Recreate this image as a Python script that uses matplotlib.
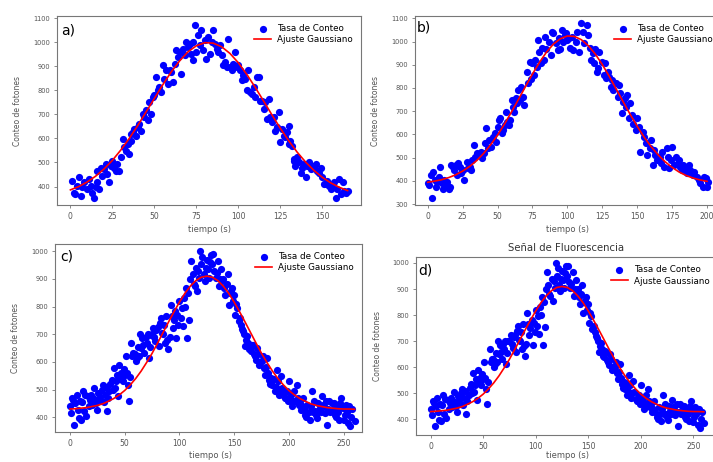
import matplotlib.pyplot as plt

W, H = 713, 462

# ---- panel a) ----
a_x = [1, 2, 3, 4, 5, 6, 7, 8, 10, 11,
       12, 13, 14, 15, 16, 16, 17, 18, 19, 20,
       21, 22, 23, 24, 25, 26, 27, 28, 29, 30,
       31, 32, 33, 34, 35, 36, 36, 37, 38, 39,
       40, 41, 42, 43, 44, 45, 46, 47, 48, 49,
       50, 51, 52, 53, 54, 55, 56, 57, 58, 59,
       60, 61, 62, 63, 64, 65, 66, 67, 68, 69,
       70, 71, 72, 73, 73, 74, 75, 76, 77, 78,
       79, 80, 81, 82, 83, 85, 84, 86, 87, 88,
       89, 90, 91, 92, 93, 94, 95, 96, 97, 98,
       99, 100, 101, 102, 103, 104, 105, 106, 107, 108,
       109, 110, 111, 112, 113, 114, 115, 116, 117, 118,
       119, 120, 121, 122, 123, 124, 125, 126, 127, 128,
       129, 130, 130, 131, 132, 133, 133, 134, 135, 136,
       137, 138, 139, 140, 141, 142, 143, 144, 145, 146,
       147, 148, 149, 150, 151, 152, 153, 154, 155, 156,
       157, 158, 159, 160, 161, 162, 163, 164, 165]
a_y = [424, 375, 368, 403, 438, 361, 396, 417, 389, 431,
       403, 375, 354, 396, 466, 417, 389, 479, 445, 472,
       493, 452, 417, 486, 507, 479, 466, 493, 466, 521,
       598, 563, 549, 577, 535, 619, 591, 626, 640, 612,
       647, 661, 633, 703, 689, 717, 675, 751, 703, 772,
       779, 856, 800, 814, 793, 905, 849, 884, 828, 884,
       877, 835, 912, 967, 939, 960, 870, 974, 946, 1002,
       981, 995, 953, 926, 1002, 1072, 960, 1030, 988, 1051,
       967, 1009, 932, 1023, 953, 1051, 1002, 995, 974, 960,
       988, 946, 905, 919, 898, 1016, 898, 884, 912, 960,
       898, 905, 884, 842, 863, 849, 800, 884, 793, 786,
       814, 772, 856, 856, 758, 758, 723, 751, 682, 765,
       689, 668, 689, 633, 647, 710, 584, 640, 612, 605,
       626, 577, 654, 591, 570, 514, 507, 486, 521, 500,
       458, 479, 493, 438, 486, 500, 472, 486, 479, 493,
       466, 458, 479, 438, 410, 410, 424, 403, 389, 396,
       417, 354, 389, 431, 368, 417, 382, 375, 382]
a_fit_x = list(range(0, 166, 5))
a_fit_y = [386, 400, 419, 443, 473, 509, 552, 600, 653, 710,
           767, 824, 877, 923, 961, 986, 999, 997, 982, 954,
           915, 867, 813, 756, 698, 642, 590, 543, 502, 467,
           438, 415, 397, 383]

# ---- panel b) ----
b_x = [0, 1, 2, 3, 4, 5, 6, 7, 8, 9,
       10, 11, 12, 13, 14, 15, 16, 17, 18, 19,
       20, 21, 22, 23, 24, 25, 26, 28, 29, 30,
       31, 32, 33, 34, 35, 37, 38, 39, 40, 41,
       42, 43, 44, 45, 47, 48, 49, 50, 51, 52,
       53, 54, 55, 56, 57, 58, 59, 60, 61, 62,
       63, 64, 65, 66, 67, 68, 69, 71, 72, 73,
       74, 75, 76, 77, 78, 79, 80, 81, 82, 83,
       84, 85, 87, 88, 89, 90, 92, 93, 94, 95,
       96, 97, 98, 99, 100, 101, 102, 103, 104, 106,
       107, 108, 110, 111, 112, 114, 115, 116, 117, 118,
       119, 120, 121, 122, 123, 125, 126, 127, 128, 129,
       130, 131, 132, 133, 135, 136, 137, 138, 139, 140,
       141, 142, 143, 144, 145, 146, 147, 149, 150, 151,
       152, 154, 155, 156, 157, 159, 160, 161, 162, 163,
       164, 166, 167, 168, 169, 171, 172, 173, 174, 175,
       176, 178, 179, 180, 181, 182, 183, 185, 186, 187,
       188, 190, 191, 193, 194, 195, 197, 198, 199, 200,
       201]
b_y = [389, 382, 425, 324, 439, 403, 375, 396, 418, 461,
       389, 367, 403, 382, 396, 367, 375, 468, 461, 446,
       468, 425, 475, 461, 432, 446, 403, 482, 454, 461,
       446, 490, 554, 504, 518, 511, 525, 497, 518, 561,
       626, 540, 576, 547, 590, 605, 569, 633, 662, 669,
       605, 619, 640, 698, 655, 640, 662, 748, 719, 698,
       755, 734, 791, 748, 805, 762, 727, 870, 820, 913,
       837, 906, 856, 920, 892, 1007, 956, 906, 974, 920,
       1021, 970, 1000, 942, 1042, 1035, 992, 963, 1014, 970,
       1050, 1000, 1028, 1035, 1007, 1014, 974, 1021, 963, 1000,
       1042, 956, 1078, 1042, 992, 1071, 1028, 974, 920, 949,
       906, 970, 870, 885, 956, 913, 856, 906, 841, 870,
       848, 805, 834, 791, 820, 762, 813, 777, 691, 741,
       755, 719, 769, 669, 734, 683, 647, 619, 669, 633,
       525, 612, 590, 561, 511, 540, 576, 468, 532, 511,
       490, 504, 475, 525, 461, 540, 504, 454, 490, 547,
       468, 504, 475, 490, 461, 446, 468, 461, 432, 468,
       446, 425, 439, 418, 403, 389, 375, 418, 411, 375,
       396]
b_fit_x = list(range(0, 201, 5))
b_fit_y = [394, 399, 405, 414, 426, 442, 462, 487, 518, 555,
           597, 645, 697, 751, 806, 860, 910, 954, 989, 1012,
           1024, 1022, 1008, 982, 946, 901, 850, 795, 740, 686,
           635, 588, 547, 512, 482, 458, 438, 423, 412, 404,
           398]

# ---- panels c) and d) (same measurement) ----
c_x = [0, 1, 3, 4, 6, 7, 8, 9, 10, 12,
       13, 15, 16, 17, 19, 20, 22, 23, 25, 26,
       28, 30, 32, 34, 36, 38, 40, 41, 43, 44,
       45, 47, 48, 50, 51, 53, 54, 56, 58, 60,
       61, 63, 65, 66, 68, 70, 72, 74, 76, 78,
       79, 81, 83, 84, 86, 87, 89, 90, 92, 93,
       94, 96, 97, 99, 100, 102, 103, 104, 106, 107,
       109, 111, 112, 114, 115, 116, 118, 119, 120, 122,
       123, 125, 126, 127, 129, 130, 132, 133, 135, 136,
       138, 139, 141, 142, 144, 145, 147, 148, 150, 151,
       153, 154, 156, 158, 160, 162, 164, 166, 168, 170,
       171, 173, 175, 177, 178, 180, 182, 184, 185, 187,
       189, 191, 193, 194, 196, 198, 200, 202, 204, 205,
       207, 209, 211, 213, 215, 217, 219, 221, 223, 224,
       226, 228, 230, 231, 233, 235, 237, 239, 240, 242,
       244, 246, 248, 249, 251, 252, 254, 256,
       2, 5, 11, 14, 18, 21, 24, 27, 29, 31,
       33, 35, 37, 39, 42, 46, 49, 52, 55, 57,
       59, 62, 64, 67, 69, 71, 73, 75, 77, 80,
       82, 85, 88, 91, 95, 98, 101, 105, 108, 110,
       113, 117, 121, 124, 128, 131, 134, 137, 140, 143,
       146, 149, 152, 155, 157, 159, 161, 163, 165, 167,
       169, 172, 174, 176, 179, 181, 183, 186, 188, 190,
       192, 195, 197, 199, 201, 203, 206, 208, 210, 212,
       214, 216, 218, 220, 222, 225, 227, 229, 232, 234,
       236, 238, 241, 243, 245, 247, 250, 253, 255, 257,
       258, 260]
c_y = [440, 416, 464, 373, 482, 428, 398, 458, 392, 494,
       422, 404, 476, 440, 482, 446, 506, 464, 428, 488,
       458, 518, 482, 422, 494, 536, 578, 506, 554, 476,
       590, 560, 530, 554, 621, 518, 458, 669, 633, 602,
       614, 621, 651, 687, 633, 669, 614, 699, 723, 675,
       717, 657, 759, 705, 735, 669, 681, 645, 807, 765,
       723, 783, 687, 735, 819, 795, 729, 831, 868, 687,
       753, 964, 916, 874, 940, 856, 904, 1000, 952, 916,
       892, 970, 934, 904, 988, 952, 928, 904, 964, 874,
       934, 892, 868, 843, 916, 807, 856, 868, 843, 771,
       795, 747, 735, 711, 657, 693, 645, 663, 627, 608,
       651, 590, 602, 578, 554, 614, 536, 542, 518, 494,
       572, 482, 548, 506, 470, 494, 530, 482, 458, 494,
       518, 446, 428, 470, 410, 446, 392, 494, 458, 422,
       398, 434, 476, 446, 416, 373, 458, 452, 428, 410,
       440, 392, 470, 434, 410, 446, 380, 368,
       470, 450, 455, 480, 462, 470, 450, 475, 500, 455,
       510, 470, 520, 500, 530, 540, 575, 560, 545, 620,
       630, 655, 700, 660, 690, 700, 655, 700, 690, 725,
       740, 700, 765, 690, 750, 770, 760, 800, 850, 900,
       880, 930, 980, 940, 960, 990, 920, 900, 900, 880,
       850, 820, 810, 760, 720, 700, 680, 670, 640, 660,
       620, 630, 600, 620, 580, 560, 520, 540, 510, 530,
       500, 480, 470, 460, 470, 440, 460, 470, 450, 440,
       430, 400, 420, 440, 420, 410, 450, 420, 440, 460,
       430, 420, 450, 400, 420, 450, 390, 420, 440, 400,
       430, 385]
c_fit_x = list(range(0, 261, 5))
c_fit_y = [430, 431, 433, 435, 439, 443, 449, 458, 468, 481,
           497, 517, 540, 567, 598, 631, 668, 706, 744, 781,
           816, 848, 874, 894, 906, 910, 906, 894, 874, 848,
           816, 781, 744, 706, 668, 631, 598, 567, 540, 517,
           497, 481, 468, 458, 449, 443, 439, 435, 433, 431,
           430, 430, 429]

plt.rcParams['font.family'] = 'DejaVu Sans'
plt.rcParams['axes.edgecolor'] = '#777777'
plt.rcParams['axes.linewidth'] = 0.8
plt.rcParams['xtick.color'] = '#777777'
plt.rcParams['ytick.color'] = '#777777'
plt.rcParams['xtick.labelcolor'] = '#555555'
plt.rcParams['ytick.labelcolor'] = '#555555'

fig = plt.figure(figsize=(W / 100, H / 100), dpi=100)


def panel(box, xlim, ylim, xticks, yticks, x, y, fx, fy, letter, letter_px, lab_px):
    # box in pixels: left, top, right, bottom
    l, t, r, b = box
    ax = fig.add_axes([l / W, 1 - b / H, (r - l) / W, (b - t) / H])
    ax.scatter(x, y, s=27, color='blue', linewidths=0, label='Tasa de Conteo', zorder=2)
    ax.plot(fx, fy, color='red', lw=1.2, label='Ajuste Gaussiano', zorder=3)
    ax.set_xlim(*xlim)
    ax.set_ylim(*ylim)
    ax.set_xticks(xticks)
    ax.set_yticks(yticks)
    ax.tick_params(axis='x', labelsize=5.5, length=2.5, width=0.6, pad=2.5)
    ax.tick_params(axis='y', labelsize=4.8, length=2.5, width=0.6, pad=2.5)
    ax.set_xlabel('tiempo (s)', fontsize=6, color='#555555', va='center')
    ax.set_ylabel('Conteo de fotones', fontsize=5.5, color='#555555', va='center')
    ax.xaxis.set_label_coords((lab_px[0] - l) / (r - l), (b - lab_px[1]) / (b - t))
    ax.yaxis.set_label_coords((lab_px[2] - l) / (r - l), 0.5)
    ax.legend(loc='upper right', frameon=False, fontsize=6.3, labelspacing=0.3,
              borderaxespad=0.5, handletextpad=0.7)
    ax.text((letter_px[0] - l) / (r - l), (b - letter_px[1]) / (b - t), letter,
            transform=ax.transAxes, fontsize=10, ha='left', va='center')
    return ax


panel((57, 16, 361, 205), (-8, 173), (323, 1110),
      [0, 25, 50, 75, 100, 125, 150], range(400, 1101, 100),
      a_x, a_y, a_fit_x, a_fit_y, 'a)', (61, 31), (209, 229, 17))

panel((415, 16, 721, 205), (-9.1, 210), (296, 1110),
      range(0, 201, 25), range(300, 1101, 100),
      b_x, b_y, b_fit_x, b_fit_y, 'b)', (417, 28), (568, 229, 376))

panel((55, 244, 362, 432), (-13.7, 266.8), (347, 1026),
      range(0, 251, 50), range(400, 1001, 100),
      c_x, c_y, c_fit_x, c_fit_y, 'c)', (60, 256), (210, 456, 16))

panel((416, 257, 718, 435), (-14, 273.5), (340, 1023),
      range(0, 251, 50), range(400, 1001, 100),
      c_x, c_y, c_fit_x, c_fit_y, 'd)', (418, 270), (567, 455, 378))

fig.text(566 / W, 1 - 248 / H, 'Señal de Fluorescencia', fontsize=7.3,
         color='#333333', ha='center', va='center')

fig.savefig('out.png', dpi=100)
